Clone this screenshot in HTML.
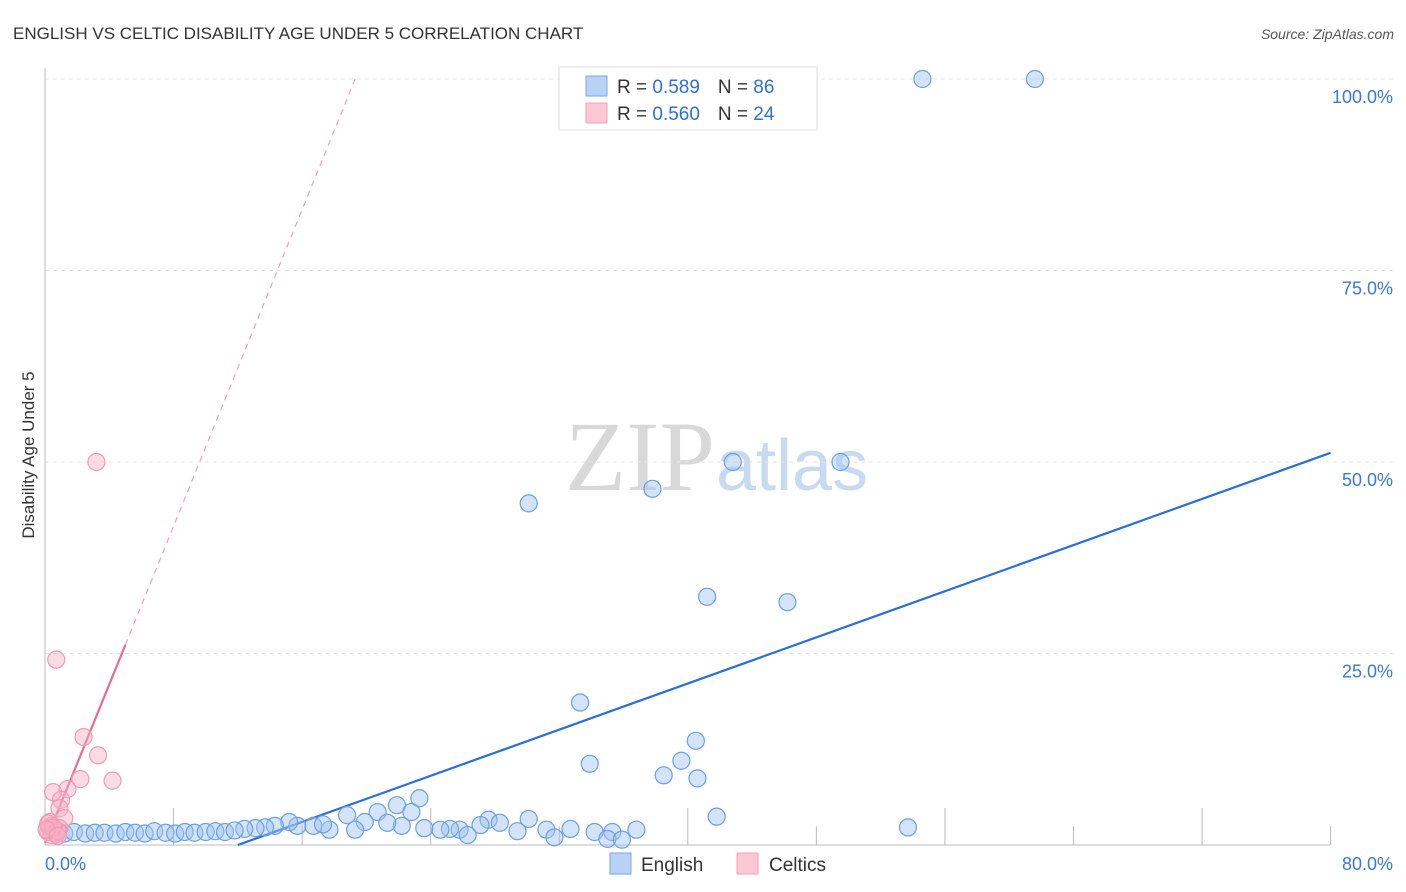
<!DOCTYPE html>
<html><head><meta charset="utf-8"><style>
body{margin:0;background:#fff;font-family:"Liberation Sans",sans-serif}
svg{display:block}
</style></head><body>
<svg id="c" width="1406" height="892">
<text x="13" y="39" font-size="17" fill="#333">ENGLISH VS CELTIC DISABILITY AGE UNDER 5 CORRELATION CHART</text>
<text x="1394" y="39" font-size="14" fill="#555" font-style="italic" text-anchor="end">Source: ZipAtlas.com</text>
<text transform="translate(34,455) rotate(-90)" font-size="17" fill="#333" text-anchor="middle">Disability Age Under 5</text>
<text x="715" y="490" font-size="100" fill="#d8d8d8" text-anchor="end" font-family="Liberation Serif,serif">ZIP</text>
<text x="716" y="490" font-size="72" fill="#c8daf2">atlas</text>
<g id="grid"></g><g id="axes"></g><g id="trend"></g><g id="pts"></g>
<g>
<rect x="559" y="67" width="258" height="63" fill="#fff" stroke="#ddd"/>
<rect x="586" y="76" width="21" height="20" fill="#b8d2f5" stroke="#7aa6e3"/>
<rect x="586" y="103" width="21" height="20" fill="#fcc8d6" stroke="#f0a0b8"/>
<text x="617" y="93" font-size="19" fill="#333">R = <tspan fill="#2f6fd6">0.589</tspan><tspan dx="18">N = </tspan><tspan fill="#2f6fd6">86</tspan></text>
<text x="617" y="120" font-size="19" fill="#333">R = <tspan fill="#2f6fd6">0.560</tspan><tspan dx="18">N = </tspan><tspan fill="#2f6fd6">24</tspan></text>
</g>
<g>
<rect x="610" y="853" width="21" height="21" fill="#b8d2f5" stroke="#7aa6e3"/>
<text x="641" y="871" font-size="19" fill="#333">English</text>
<rect x="737" y="853" width="21" height="21" fill="#fcc8d6" stroke="#f0a0b8"/>
<text x="769" y="871" font-size="19" fill="#333">Celtics</text>
</g>
</svg>
<script>
const yTicks=[25,50,75,100];
const yTickLabels=["25.0%","50.0%","75.0%","100.0%"];
const xTickLabels=["0.0%","80.0%"];
const englishX=[54.6,61.6,42.8,49.5,37.8,30.1,41.2,46.2,33.3,40.5,33.9,39.6,38.5,40.6,41.8,53.7,23.3,21.9,22.8,20.7,18.8,19.9,30.1,27.6,28.3,27.1,32.7,36.8,35.3,34.2,31.2,29.4,25.8,25.2,24.6,23.6,22.2,21.3,19.3,17.7,16.7,17.3,15.7,15.2,14.3,13.7,13.1,12.4,31.7,26.3,35.0,35.9,0.6,1.2,1.8,2.5,3.1,3.7,4.4,5.0,5.6,6.2,6.8,7.5,8.1,8.7,9.3,10.0,10.6,11.2,11.8];
const englishY=[100,100,50,50,46.5,44.6,32.4,31.7,18.6,13.6,10.6,11.0,9.1,8.7,3.7,2.3,6.1,5.2,4.3,4.3,3.9,3.0,3.4,3.3,2.9,2.6,2.1,2.0,1.7,1.7,2.0,1.8,2.0,2.1,2.0,2.2,2.5,2.9,2.0,2.0,2.5,2.7,2.5,3.0,2.5,2.3,2.2,2.1,1.0,1.3,0.8,0.7,1.6,1.5,1.7,1.5,1.6,1.6,1.5,1.7,1.6,1.5,1.8,1.6,1.5,1.7,1.6,1.7,1.8,1.7,1.9];
const celticX=[3.2,0.7,2.4,3.3,4.2,2.2,1.4,0.5,1.0,0.9,1.2,0.3,0.4,0.6,0.2,0.7,0.3,0.9,0.4,0.2,0.8,0.5,0.1,0.8];
const celticY=[50,24.2,14.1,11.7,8.4,8.6,7.3,6.9,5.9,4.8,3.5,3.0,2.5,2.0,1.7,1.4,2.2,2.2,1.3,2.8,1.8,2.3,2.0,1.2];
const englishTrend=[12.0,0,80,51.2];
const celticTrend=[0,0.3,19.3,100];
const celticSolidEnd=5.0;
const NS="http://www.w3.org/2000/svg";
const X=v=>45+v*16.07, Y=v=>845-v*7.66;
function mk(p,t,a){const e=document.createElementNS(NS,t);for(const k in a)e.setAttribute(k,a[k]);p.appendChild(e);return e;}
const grid=document.getElementById('grid'),axes=document.getElementById('axes'),trend=document.getElementById('trend'),pts=document.getElementById('pts');
yTicks.forEach((t,i)=>{
 const l=mk(grid,'line',{x1:45,x2:1393,y1:Y(t),y2:Y(t),stroke:'#e4e4e4','stroke-dasharray':'4,4'});
 
 
 const tx=mk(axes,'text',{x:1393,y:Y(t)+24,'font-size':18,fill:'#3a78d8','text-anchor':'end'});
 tx.textContent=yTickLabels[i];
 
 
});
const ax=mk(axes,'line',{x1:45,x2:1330,y1:845,y2:845,stroke:'#bbb'});


const ay=mk(axes,'line',{x1:45,x2:45,y1:68,y2:845,stroke:'#bbb'});


for(let i=1;i<=10;i++){const v=i*8;const tk=mk(axes,'line',{x1:X(v),x2:X(v),y1:i%2?808:826,y2:845,stroke:'#bbb'});
 
 }
const xl0=mk(axes,'text',{x:45,y:870,'font-size':18,fill:'#3a78d8'});xl0.textContent=xTickLabels[0];


const xl1=mk(axes,'text',{x:1393,y:870,'font-size':18,fill:'#3a78d8','text-anchor':'end'});xl1.textContent=xTickLabels[1];


englishX.forEach((v,i)=>{const c=mk(pts,'circle',{cx:X(v),cy:Y(englishY[i]),r:8.5,fill:'rgba(160,196,240,0.45)',stroke:'#6c9fe2','stroke-width':1.2});
 
 });
celticX.forEach((v,i)=>{const c=mk(pts,'circle',{cx:X(v),cy:Y(celticY[i]),r:8.5,fill:'rgba(248,176,198,0.45)',stroke:'#f09ab4','stroke-width':1.2});
 
 });
const bt=mk(trend,'line',{x1:X(englishTrend[0]),y1:Y(englishTrend[1]),x2:X(englishTrend[2]),y2:Y(englishTrend[3]),stroke:'#2a6fd9','stroke-width':2.2});


const cs=(celticTrend[3]-celticTrend[1])/(celticTrend[2]-celticTrend[0]);
const ps=mk(trend,'line',{x1:X(celticTrend[0]),y1:Y(celticTrend[1]),x2:X(celticSolidEnd),y2:Y(celticTrend[1]+cs*celticSolidEnd),stroke:'#ec6a92','stroke-width':2.2});


const pd=mk(trend,'line',{x1:X(celticSolidEnd),y1:Y(celticTrend[1]+cs*celticSolidEnd),x2:X(celticTrend[2]),y2:Y(celticTrend[3]),stroke:'#f0a0b8','stroke-width':1.2,'stroke-dasharray':'6,5'});


</script>
</body></html>
